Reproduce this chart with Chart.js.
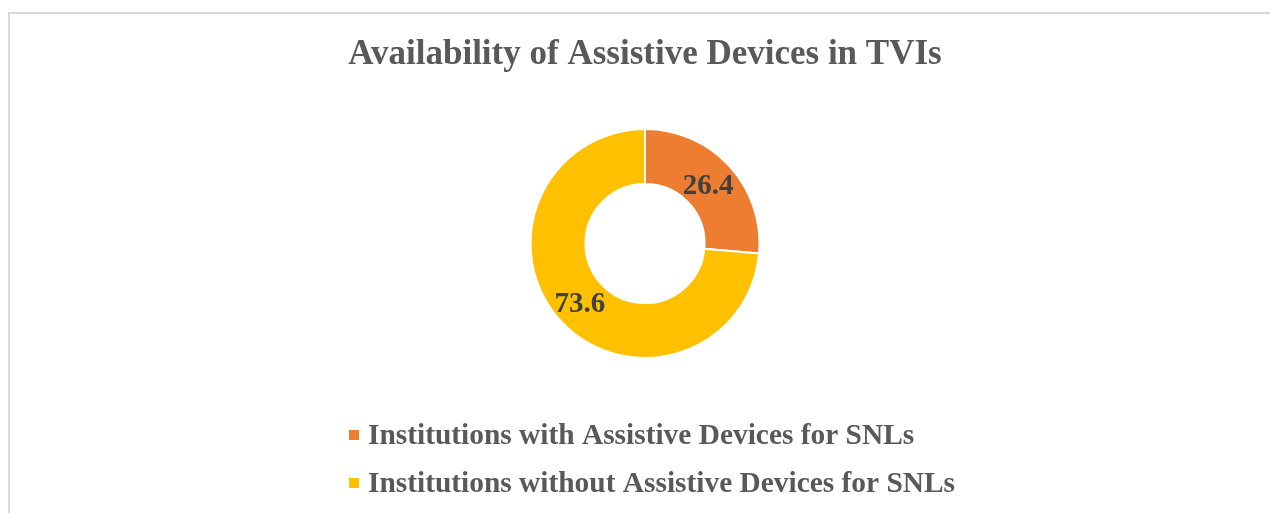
<!DOCTYPE html>
<html>
<head>
<meta charset="utf-8">
<script src="https://cdn.jsdelivr.net/npm/chart.js@4.4.1/dist/chart.umd.min.js"></script>
<style>
    html, body { margin: 0; padding: 0; background: #fff; overflow: hidden; }
    #frame {
        position: absolute;
        left: 8px;
        top: 12px;
        width: 1400px;
        height: 700px;
        border-left: 2px solid #d9d9d9;
        border-top: 2px solid #d9d9d9;
    }
    #chart { position: absolute; left: 0; top: 0; }
</style>
</head>
<body>
<div id="frame"></div>
<canvas id="chart" width="1270" height="513"></canvas>
<script>
const titleText = "Availability of Assistive Devices in TVIs";
const categories = [
    "Institutions with Assistive Devices for SNLs",
    "Institutions without Assistive Devices for SNLs"
];
const values = [26.4, 73.6];
const colors = ["#ED7D31", "#FFC000"];

const serif = "'Liberation Serif', 'Times New Roman', serif";

// ===== value labels on the arcs =====
const arcLabels = {
    id: "arcLabels",
    afterDatasetsDraw(chart) {
        const ctx = chart.ctx;
        const meta = chart.getDatasetMeta(0);
        ctx.save();
        ctx.font = "bold 29px " + serif;
        ctx.fillStyle = "#404040";
        ctx.textAlign = "center";
        ctx.textBaseline = "middle";
        meta.data.forEach((arc, i) => {
            const p = arc.tooltipPosition();
            ctx.fillText(String(chart.data.datasets[0].data[i]), p.x - 1, p.y + 2);
        });
        ctx.restore();
    }
};

// ===== legend, rows aligned on the left =====
const leftLegend = {
    id: "leftLegend",
    afterDraw(chart) {
        const ctx = chart.ctx;
        const x0 = 349;
        const rows = [435, 483];
        ctx.save();
        ctx.font = "bold 29.4px " + serif;
        ctx.textBaseline = "middle";
        ctx.textAlign = "left";
        chart.data.labels.forEach((label, i) => {
            const y = rows[i];
            ctx.fillStyle = chart.data.datasets[0].backgroundColor[i];
            ctx.fillRect(x0, y - 5, 10, 10);
            ctx.fillStyle = "#595959";
            ctx.fillText(label, x0 + 19, y + 1);
        });
        ctx.restore();
    }
};

new Chart(document.getElementById("chart"), {
    type: "doughnut",
    data: {
        labels: categories,
        datasets: [{
            data: values,
            backgroundColor: colors,
            borderColor: "#ffffff",
            borderWidth: 2
        }]
    },
    options: {
        responsive: false,
        animation: false,
        cutout: "52%",
        layout: {
            padding: { top: 0, left: 20, right: 0, bottom: 154 }
        },
        plugins: {
            legend: { display: false },
            tooltip: { enabled: false },
            title: {
                display: true,
                text: titleText,
                color: "#595959",
                font: { family: serif, size: 35, weight: "bold", lineHeight: 1.2 },
                padding: { top: 34, bottom: 52 }
            }
        }
    },
    plugins: [arcLabels, leftLegend]
});
</script>
</body>
</html>
